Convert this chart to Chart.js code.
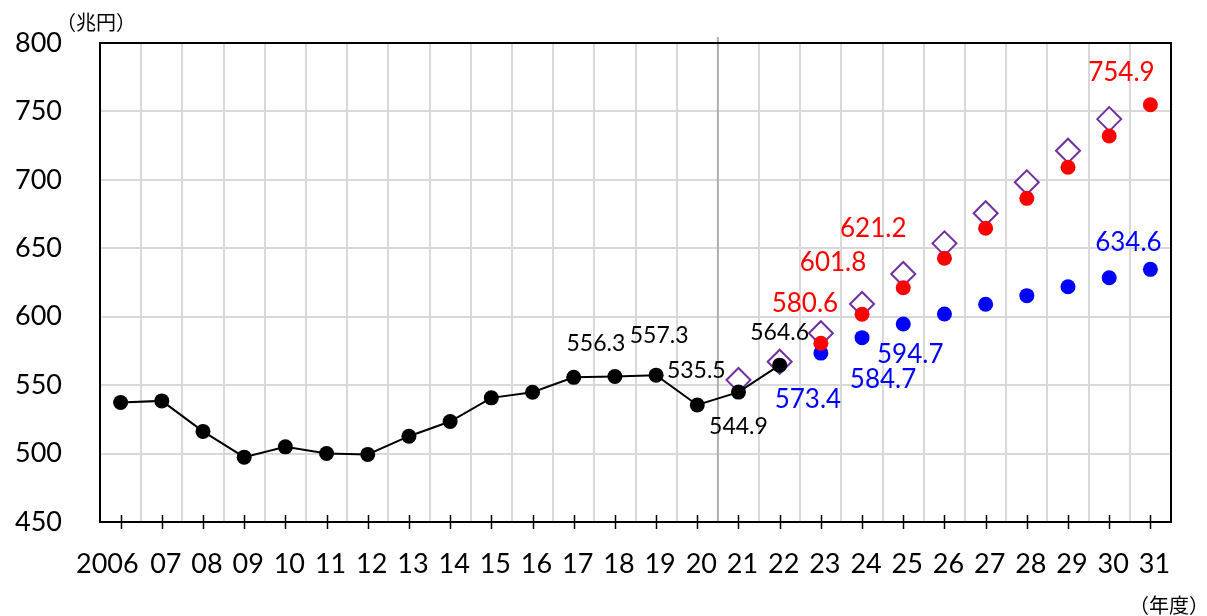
<!DOCTYPE html>
<html><head><meta charset="utf-8">
<script src="https://cdn.jsdelivr.net/npm/chart.js@4.4.0/dist/chart.umd.min.js"></script>
<style>html,body{margin:0;padding:0;background:#fff}canvas{display:block}</style>
</head><body>
<canvas id="c" width="1207" height="616"></canvas>
<script>
const categories = ['2006','07','08','09','10','11','12','13','14','15','16','17','18','19','20','21','22','23','24','25','26','27','28','29','30','31'];
const actual   = [537.3,538.5,516.2,497.4,504.9,500.0,499.4,512.7,523.4,540.7,544.8,555.7,556.3,557.3,535.5,544.9,564.6,null,null,null,null,null,null,null,null,null];
const previous = [null,null,null,null,null,null,null,null,null,null,null,null,null,null,null,553.8,567.1,587.9,609.3,631.2,653.6,675.6,698.2,721.3,744.4,null];
const high     = [null,null,null,null,null,null,null,null,null,null,null,null,null,null,null,null,null,580.6,601.8,621.2,642.7,664.6,686.5,709.2,732.0,754.9];
const base     = [null,null,null,null,null,null,null,null,null,null,null,null,null,null,null,null,null,573.4,584.7,594.7,602.0,609.1,615.4,621.9,628.5,634.6];
const yTicks   = [450,500,550,600,650,700,750,800];
const unitY = '（兆円）';
const unitX = '（年度）';

// label placement (index -> [dx, dy]) per dataset
const labelPlacement = {
  actual: {12:[-19,-33], 13:[3,-40], 14:[-1,-34], 15:[0,34], 16:[0,-33]},
  high:   {17:[-16,-40], 18:[-29,-52], 19:[-30,-59], 25:[-29,-32]},
  base:   {17:[-13,46], 18:[21,42], 19:[7,31], 25:[-22,-27]}
};

Chart.defaults.font.family = 'Lato, "Liberation Sans", sans-serif';
Chart.defaults.color = '#000';

const decor = {
  id: 'decor',
  beforeDatasetsDraw(chart) {
    const {ctx, chartArea: a, scales: {x}} = chart;
    ctx.save();
    const sx = (x.getPixelForValue(14) + x.getPixelForValue(15)) / 2;
    ctx.strokeStyle = '#b0b0b0'; ctx.lineWidth = 2;
    ctx.beginPath(); ctx.moveTo(sx, a.top - 6); ctx.lineTo(sx, a.bottom); ctx.stroke();
    ctx.strokeStyle = '#000'; ctx.lineWidth = 2;
    ctx.strokeRect(a.left, a.top, a.right - a.left, a.bottom - a.top);
    ctx.lineWidth = 1.5;
    for (let i = 0; i < categories.length; i++) {
      const px = Math.round(x.getPixelForValue(i)) + 0.5;
      ctx.beginPath(); ctx.moveTo(px, a.bottom - 7); ctx.lineTo(px, a.bottom + 7); ctx.stroke();
    }
    ctx.fillStyle = '#000';
    ctx.font = '20px "Noto Sans CJK JP"';
    ctx.textBaseline = 'middle'; ctx.textAlign = 'left';
    ctx.fillText(unitY, a.left - 44, a.top - 21);
    ctx.fillText(unitX, 1129, 605);
    ctx.restore();
  },
  afterDatasetsDraw(chart) {
    const {ctx} = chart;
    ctx.save();
    ctx.textAlign = 'center'; ctx.textBaseline = 'middle';
    chart.data.datasets.forEach((ds, di) => {
      const place = labelPlacement[ds.key];
      if (!place) return;
      const meta = chart.getDatasetMeta(di);
      ctx.fillStyle = ds.labelColor;
      ctx.font = ds.labelFont;
      Object.keys(place).forEach(k => {
        const i = +k; const v = ds.data[i];
        if (v == null) return;
        const pt = meta.data[i];
        ctx.fillText(v.toFixed(1), pt.x + place[k][0], pt.y + place[k][1]);
      });
    });
    ctx.restore();
  }
};

new Chart(document.getElementById('c'), {
  type: 'line',
  data: {
    labels: categories,
    datasets: [
      {key:'actual', data: actual, borderColor:'#000', borderWidth:2, pointRadius:7.5, pointHoverRadius:7.5,
       pointBackgroundColor:'#000', pointBorderColor:'#000', pointBorderWidth:0, order:0, spanGaps:false,
       labelColor:'#000', labelFont:'23px Lato'},
      {key:'high', data: high, showLine:false, pointRadius:7.5, pointHoverRadius:7.5, pointBackgroundColor:'#ff0000',
       pointBorderColor:'#ff0000', pointBorderWidth:0, order:1, labelColor:'#ff0000', labelFont:'26px Lato'},
      {key:'base', data: base, showLine:false, pointRadius:7.5, pointHoverRadius:7.5, pointBackgroundColor:'#0000ff',
       pointBorderColor:'#0000ff', pointBorderWidth:0, order:2, labelColor:'#0000ff', labelFont:'26px Lato'},
      {key:'previous', data: previous, showLine:false, pointStyle:'rectRot', pointRadius:12, pointHoverRadius:12,
       pointBackgroundColor:'#fff', pointBorderColor:'#7030a0', pointBorderWidth:2, order:3}
    ]
  },
  options: {
    responsive:false, animation:false,
    layout:{padding:{top:43, right:36, left:0, bottom:0}},
    plugins:{legend:{display:false}, tooltip:{enabled:false}},
    events: [],
    scales:{
      x:{
        offset:true,
        grid:{offset:true, color:'#d9d9d9', lineWidth:2, drawTicks:false},
        border:{display:true, color:'#000', width:2},
        ticks:{autoSkip:false, maxRotation:0, minRotation:0, padding:26, labelOffset:4, font:{size:27}, color:'#000',
               callback(v, i){ const t = this.getLabelForValue(v); return i === 0 ? t + '     ' : t; }},
        afterFit(s){ s.height = 94; }
      },
      y:{
        min:450, max:800,
        afterBuildTicks(s){ s.ticks = yTicks.map(v => ({value:v})); },
        grid:{color:'#d9d9d9', lineWidth:2, drawTicks:false},
        border:{display:true, color:'#000', width:2},
        ticks:{padding:38, font:{size:27}, color:'#000'},
        afterFit(s){ s.width = 100; s.paddingTop = 0; s.paddingBottom = 0; }
      }
    }
  },
  plugins:[decor]
});
</script>
</body></html>
